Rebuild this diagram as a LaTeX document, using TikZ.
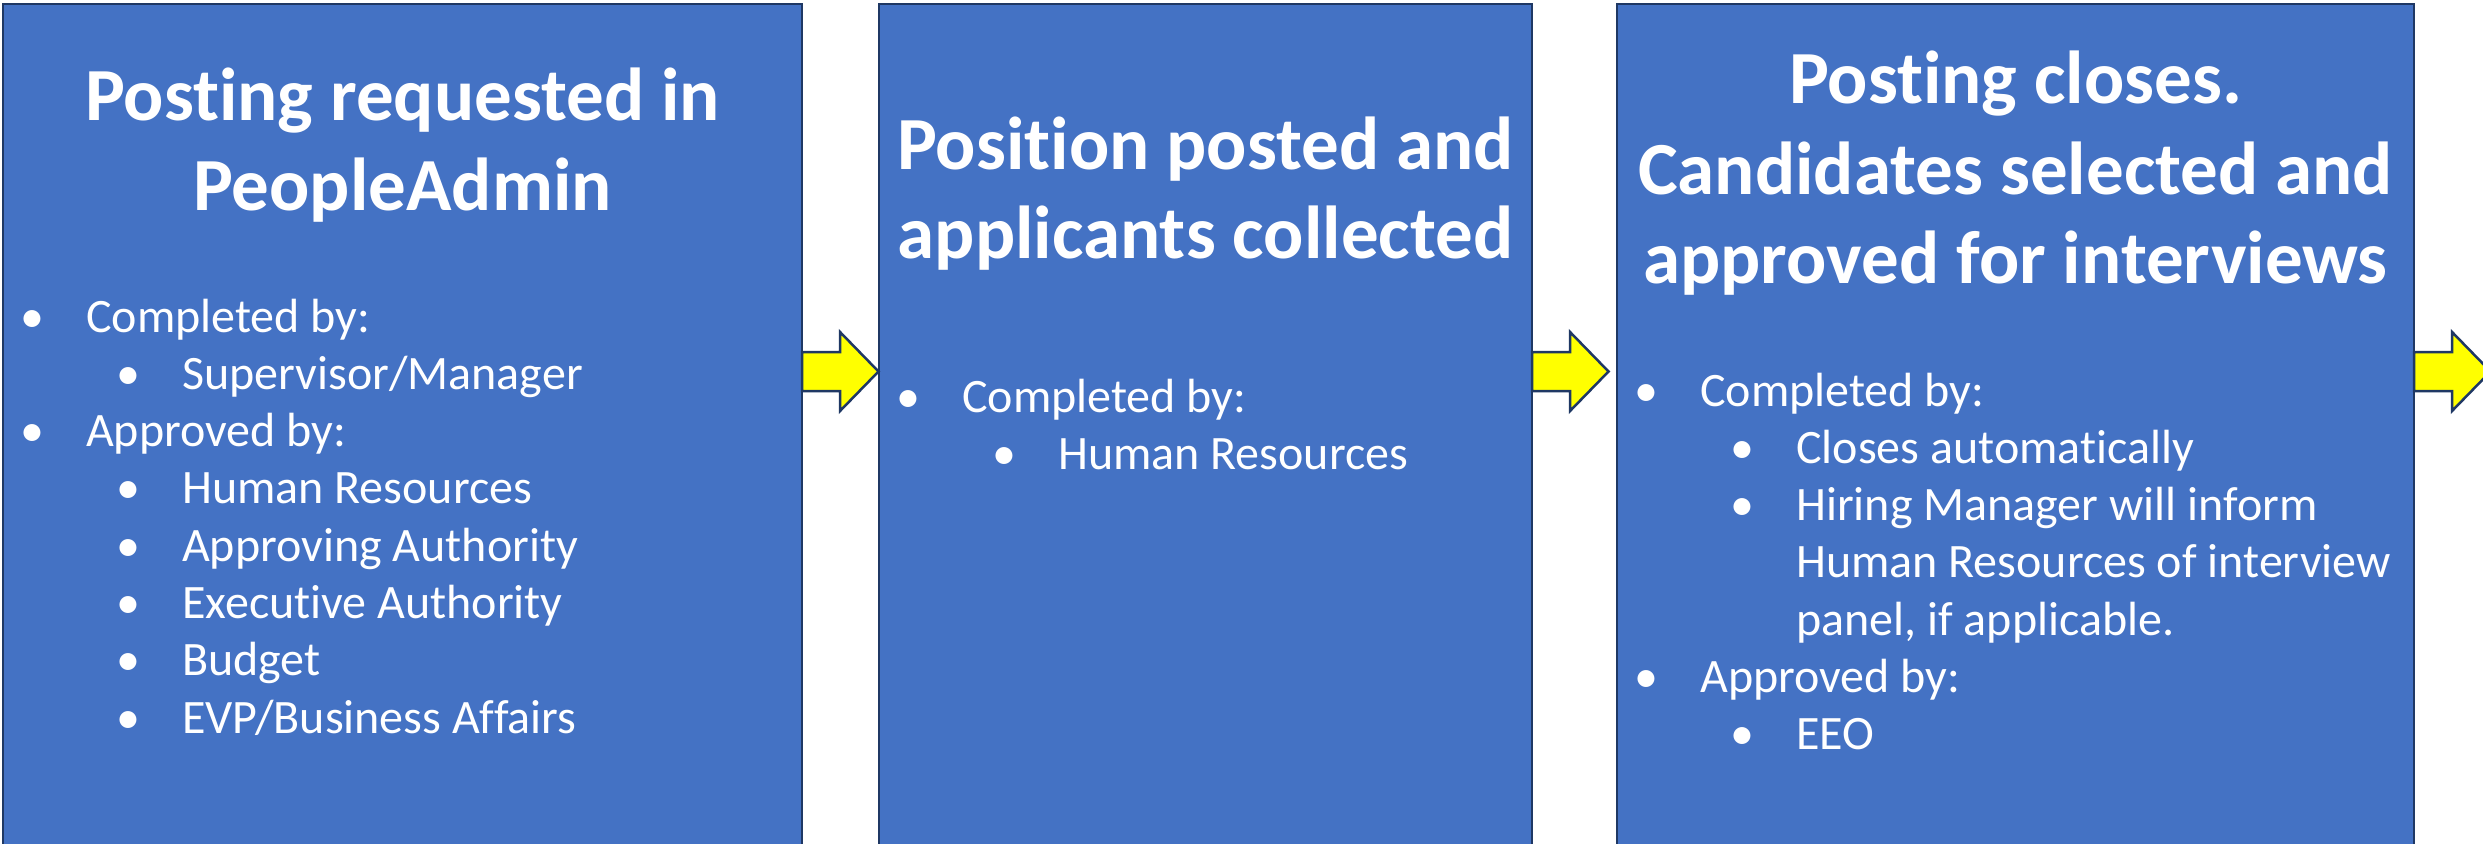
\documentclass[tikz,border=0pt]{standalone}
\usepackage{fontspec}
\setmainfont{Carlito}[Ligatures={TeX,NoCommon}]
\usetikzlibrary{calc}

\definecolor{stagefill}{HTML}{4472C4}
\definecolor{stageline}{HTML}{1F3864}
\definecolor{arrowfill}{HTML}{FFFF00}

\tikzset{
  stagebox/.style={draw=stageline, line width=2.5pt, fill=stagefill,
    rectangle, inner sep=0pt, outer sep=0pt},
  stagetitle/.style={text=white, font=\fontsize{75}{90}\selectfont\bfseries,
    anchor=base, inner sep=0pt},
  itemtext/.style={text=white, font=\fontsize{48}{57}\selectfont,
    anchor=base west, inner sep=0pt},
  bulletmark/.style={text=white, font=\fontsize{48}{57}\selectfont,
    anchor=base, inner sep=0pt},
  flowarrow/.style={draw=stageline, line width=2.5pt, fill=arrowfill,
    line join=miter},
}

% first-level bullet: name, box, baseline, text
\newcommand{\stageitem}[4]{%
  \node[bulletmark] (#1m) at ($(#2.west |- 0,#3)+(29,0)$) {\textbullet};
  \node[itemtext] (#1) at ($(#2.west |- 0,#3)+(83,0)$) {#4};}
% second-level bullet
\newcommand{\stagesubitem}[4]{%
  \node[bulletmark] (#1m) at ($(#2.west |- 0,#3)+(125,0)$) {\textbullet};
  \node[itemtext] (#1) at ($(#2.west |- 0,#3)+(179,0)$) {#4};}
% wrapped continuation line of a second-level bullet
\newcommand{\stagecont}[4]{%
  \node[itemtext] (#1) at ($(#2.west |- 0,#3)+(179,0)$) {#4};}
% block arrow leaving a stage box to the right
\newcommand{\stagearrow}[1]{%
  \draw[flowarrow] ($(#1.east |- 0,352)$) -- ++(38,0) -- ++(0,-20)
    -- ++(38.5,39.5) -- ++(-38.5,39.5) -- ++(0,-20) -- ++(-38,0) -- cycle;}

\begin{document}
\begin{tikzpicture}[x=1pt,y=-1pt]
\clip (0,0) rectangle (2483,843);
\fill[white] (0,0) rectangle (2483,843);

% stage boxes (they run past the lower edge)
\node[stagebox, minimum width=799, minimum height=880] (b1) at (402.5,444) {};
\node[stagebox, minimum width=653, minimum height=880] (b2) at (1205.5,444) {};
\node[stagebox, minimum width=797, minimum height=880] (b3) at (2015.5,444) {};

% arrows between stages
\stagearrow{b1}
\stagearrow{b2}
\stagearrow{b3}

% stage 1
\node[stagetitle] (t1a) at ($(b1.north |- 0,120)$) {Posting requested in};
\node[stagetitle] (t1b) at ($(b1.north |- 0,210)$) {PeopleAdmin};
\stageitem{s1a}{b1}{332}{Completed by:}
\stagesubitem{s1b}{b1}{389.3}{Supervisor/Manager}
\stageitem{s1c}{b1}{446.6}{Approved by:}
\stagesubitem{s1d}{b1}{503.9}{Human Resources}
\stagesubitem{s1e}{b1}{561.2}{Approving Authority}
\stagesubitem{s1f}{b1}{618.5}{Executive Authority}
\stagesubitem{s1g}{b1}{675.8}{Budget}
\stagesubitem{s1h}{b1}{733.1}{EVP/Business Affairs}

% stage 2
\node[stagetitle] (t2a) at ($(b2.north |- 0,169)$) {Position posted and};
\node[stagetitle] (t2b) at ($(b2.north |- 0,258)$) {applicants collected};
\stageitem{s2a}{b2}{412}{Completed by:}
\stagesubitem{s2b}{b2}{469}{Human Resources}

% stage 3
\node[stagetitle] (t3a) at ($(b3.north |- 0,103)$) {Posting closes.};
\node[stagetitle] (t3b) at ($(b3.north |- 0,194)$) {Candidates selected and};
\node[stagetitle] (t3c) at ($(b3.north |- 0,283)$) {approved for interviews};
\stageitem{s3a}{b3}{406}{Completed by:}
\stagesubitem{s3b}{b3}{463.3}{Closes automatically}
\stagesubitem{s3c}{b3}{520.6}{Hiring Manager will inform}
\stagecont{s3d}{b3}{577.9}{Human Resources of interview}
\stagecont{s3e}{b3}{635.2}{panel, if applicable.}
\stageitem{s3f}{b3}{692.5}{Approved by:}
\stagesubitem{s3g}{b3}{749.8}{EEO}
\end{tikzpicture}
\end{document}
